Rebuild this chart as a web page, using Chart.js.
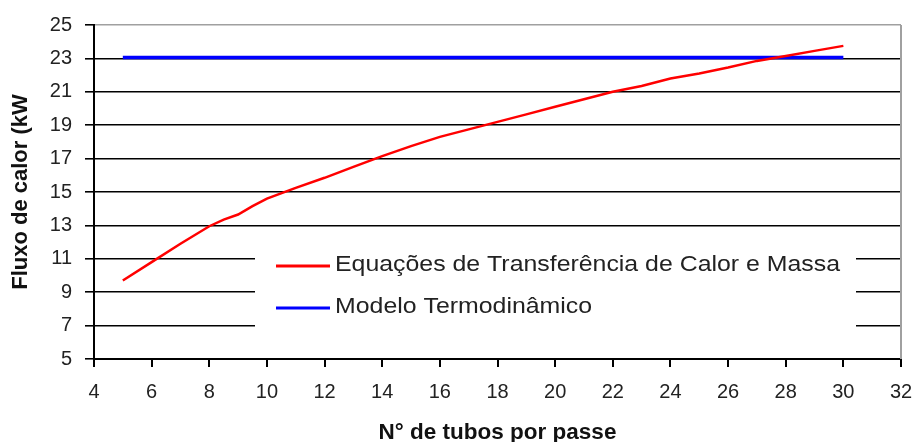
<!DOCTYPE html>
<html>
<head>
<meta charset="utf-8">
<script src="https://cdn.jsdelivr.net/npm/chart.js@4.4.0/dist/chart.umd.min.js"></script>
<style>
  html, body { margin: 0; padding: 0; background: #fff; overflow: hidden; }
  #wrap { width: 917px; height: 442px; }
  canvas { display: block; }
</style>
</head>
<body>
<div id="wrap"><canvas id="chart" width="917" height="442"></canvas></div>
<script>
// values
const tubos = [5, 6, 7, 8, 8.5, 9, 9.5, 10, 11, 12, 13, 14, 15, 16, 17, 18, 19, 20, 21, 22, 23, 24, 25, 26, 27, 28, 29, 30]
const fluxoEquacoes = [9.7, 10.8, 11.9, 12.95, 13.35, 13.65, 14.15, 14.6, 15.25, 15.85, 16.5, 17.15, 17.75, 18.3, 18.75, 19.2, 19.65, 20.1, 20.55, 21.0, 21.35, 21.8, 22.1, 22.45, 22.85, 23.15, 23.45, 23.75]
const tubosModelo = [5, 30]
const fluxoModelo = [23.05, 23.05]
const seriesLabels = ['Equações de Transferência de Calor e Massa', 'Modelo Termodinâmico']
const seriesColors = ['#ff0000', '#0000ff']
const xTicks = { min: 4, max: 32, step: 2 }
const yTicks = { min: 5, max: 25, step: 2 }

const FONT = "'Liberation Sans', Arial, sans-serif"

// grey frame line on the right of the plot
const rightFrame = {
  id: 'rightFrame',
  beforeDatasetsDraw(chart) {
    const { ctx, chartArea } = chart
    ctx.save()
    ctx.strokeStyle = '#a0a0a0'
    ctx.lineWidth = 2
    ctx.beginPath()
    ctx.moveTo(chartArea.right, chartArea.top)
    ctx.lineTo(chartArea.right, chartArea.bottom)
    ctx.stroke()
    ctx.restore()
  }
}

// legend sits inside the plot on a white box that hides the grid lines
const boxLegend = {
  id: 'boxLegend',
  afterDatasetsDraw(chart) {
    const ctx = chart.ctx
    ctx.save()
    ctx.fillStyle = '#fff'
    ctx.fillRect(255, 239, 601, 106)

    ctx.font = '22px ' + FONT
    const sx = 505 / ctx.measureText(seriesLabels[0]).width
    const rows = [266, 308]
    rows.forEach((y, i) => {
      ctx.strokeStyle = seriesColors[i]
      ctx.lineWidth = 3
      ctx.beginPath()
      ctx.moveTo(276, y)
      ctx.lineTo(330, y)
      ctx.stroke()

      ctx.fillStyle = '#222'
      ctx.textBaseline = 'alphabetic'
      ctx.save()
      ctx.translate(335, y + 5)
      ctx.scale(sx, 1)
      ctx.fillText(seriesLabels[i], 0, 0)
      ctx.restore()
    })
    ctx.restore()
  }
}

const data = {
  datasets: [
    {
      label: seriesLabels[0],
      data: tubos.map((x, i) => ({ x: x, y: fluxoEquacoes[i] })),
      borderColor: seriesColors[0],
      borderWidth: 2.5,
      pointRadius: 0,
      tension: 0
    },
    {
      label: seriesLabels[1],
      data: tubosModelo.map((x, i) => ({ x: x, y: fluxoModelo[i] })),
      borderColor: seriesColors[1],
      borderWidth: 3.5,
      pointRadius: 0,
      tension: 0
    }
  ]
}

new Chart(document.getElementById('chart').getContext('2d'), {
  type: 'line',
  data: data,
  plugins: [rightFrame, boxLegend],
  options: {
    responsive: false,
    devicePixelRatio: 1,
    animation: false,
    layout: { padding: { top: 25, right: 16, left: 0, bottom: 0 } },
    plugins: {
      legend: { display: false },
      tooltip: { enabled: false }
    },
    scales: {
      x: {
        type: 'linear',
        min: xTicks.min,
        max: xTicks.max,
        ticks: {
          stepSize: xTicks.step,
          color: '#222',
          padding: 13,
          font: { family: FONT, size: 20 }
        },
        grid: {
          drawOnChartArea: false,
          drawTicks: true,
          tickLength: 8,
          tickColor: '#000',
          lineWidth: 2
        },
        border: { color: '#000', width: 2 },
        title: {
          display: true,
          text: 'N° de tubos por passe',
          color: '#111',
          padding: { top: 0, bottom: -2 },
          font: { family: FONT, size: 22.5, weight: 'bold', lineHeight: 1 }
        },
        afterFit(scale) {
          scale.height = 83
          scale.paddingLeft = 0
          scale.paddingRight = 0
        }
      },
      y: {
        type: 'linear',
        position: 'left',
        min: yTicks.min,
        max: yTicks.max,
        ticks: {
          stepSize: yTicks.step,
          color: '#222',
          padding: 13,
          font: { family: FONT, size: 20 }
        },
        grid: {
          color: (c) => (c.tick && c.tick.value === yTicks.max ? '#a0a0a0' : '#000'),
          lineWidth: 1.6,
          tickLength: 9,
          tickColor: '#000'
        },
        border: { color: '#000', width: 2 },
        title: {
          display: true,
          text: 'Fluxo de calor (kW',
          color: '#111',
          padding: { top: 10, bottom: 0 },
          font: { family: FONT, size: 22, weight: 'bold', lineHeight: 1 }
        },
        afterFit(scale) { scale.width = 94 }
      }
    }
  }
})
</script>
</body>
</html>
